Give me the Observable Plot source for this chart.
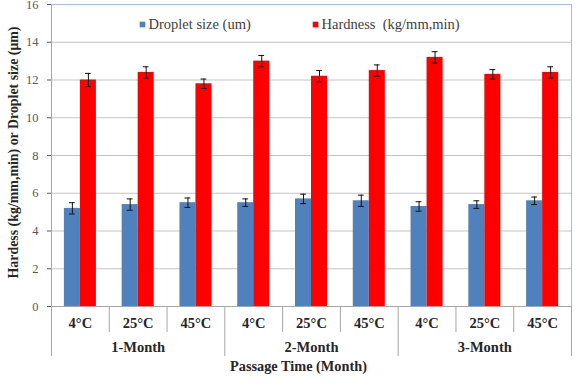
<!DOCTYPE html>
<html>
<head>
<meta charset="utf-8">
<script src="https://cdn.jsdelivr.net/npm/d3@7"></script>
<script src="https://cdn.jsdelivr.net/npm/@observablehq/plot@0.6"></script>
<style>
  body { margin: 0; background: #fff; }
  #chart svg, #chart svg text { font-family: "Liberation Serif", "Times New Roman", serif !important; }
</style>
</head>
<body>
<div id="chart"></div>
<script>
// Category levels on the x axis
const months = ["1-Month", "2-Month", "3-Month"];
const temps = ["4°C", "25°C", "45°C"];

// Series
const seriesNames = ["Droplet size (um)", "Hardness  (kg/mm,min)"];
const seriesColors = ["#4f81bd", "#ff0000"];
const dropletSize = [5.2, 5.4, 5.5, 5.5, 5.7, 5.6, 5.3, 5.4, 5.6];
const dropletErr = [0.3, 0.3, 0.25, 0.2, 0.25, 0.3, 0.25, 0.2, 0.2];
const hardness = [12.0, 12.4, 11.8, 13.0, 12.2, 12.5, 13.2, 12.3, 12.4];
const hardnessErr = [0.35, 0.3, 0.25, 0.3, 0.3, 0.3, 0.3, 0.25, 0.3];

// Axis ticks and titles
const yTicks = [0, 2, 4, 6, 8, 10, 12, 14, 16];
const yTitle = "Hardess (kg/mm,min) or Droplet size (μm)";
const xTitle = "Passage Time (Month)";

// One row per category (month × temperature), indexed 0..8 along x
const categories = months.flatMap((month, g) =>
  temps.map((temp, j) => ({i: g * temps.length + j, month, temp})));
const groups = months.map((month, g) => ({g, month}));

// One row per bar
const rows = categories.flatMap(c => [
  {i: c.i, s: 0, value: dropletSize[c.i], err: dropletErr[c.i]},
  {i: c.i, s: 1, value: hardness[c.i], err: hardnessErr[c.i]}
]);

const BAR = 0.277;  // bar width as a share of one category
const CAP = 0.05;   // half-width of the error-bar caps
const barLeft = d => d.i + 0.5 + (d.s - 1) * BAR;
const barMid = d => barLeft(d) + BAR / 2;
const nCat = categories.length;

// Legend entries sit inside the plot, just under the top edge
const legendItems = seriesNames.map((name, s) => ({name, s, x: [1.575, 4.57][s]}));
const legendY = 14.94;

const serif = "'Liberation Serif', 'Times New Roman', serif";
const gridColor = "#c4c4c4";
const axisColor = "#a6a6a6";
const frameBlue = "#a9bdd8";
const labelColor = "#262626";

const chart = Plot.plot({
  width: 578,
  height: 390,
  marginLeft: 51,
  marginRight: 7,
  marginTop: 4,
  marginBottom: 84,
  x: {domain: [0, nCat], axis: null},
  y: {domain: [0, 16], ticks: yTicks, tickSize: 4, tickPadding: 9, label: null},
  color: {domain: [0, 1], range: seriesColors},
  style: {fontFamily: serif, fontSize: "12.5px", color: "#595959", background: "white", overflow: "visible"},
  marks: [
    // horizontal gridlines
    Plot.ruleY(yTicks.filter(t => t > 0 && t < 16), {y: d => d, x1: 0, x2: nCat, stroke: gridColor}),

    // bars
    Plot.rectY(rows, {
      x1: barLeft,
      x2: d => barLeft(d) + BAR,
      y1: 0,
      y2: "value",
      fill: d => d.s
    }),

    // error bars
    Plot.ruleX(rows, {x: barMid, y1: d => d.value - d.err, y2: d => d.value + d.err, stroke: "#111", strokeWidth: 1}),
    Plot.ruleY(rows, {y: d => d.value + d.err, x1: d => barMid(d) - CAP, x2: d => barMid(d) + CAP, stroke: "#111", strokeWidth: 1}),
    Plot.ruleY(rows, {y: d => d.value - d.err, x1: d => barMid(d) - CAP, x2: d => barMid(d) + CAP, stroke: "#111", strokeWidth: 1}),

    // plot-area border on top and right
    Plot.ruleY([16], {x1: 0, x2: nCat, stroke: frameBlue}),
    Plot.ruleX([nCat], {y1: 0, y2: 16, stroke: frameBlue}),

    // value axis line and category baseline
    Plot.ruleX([0], {y1: 16, y2: 0, stroke: axisColor}),
    Plot.ruleY([0], {x1: 0, x2: nCat, stroke: axisColor}),

    // dividers between temperatures and between months
    Plot.ruleX(d3.range(1, nCat).filter(k => k % temps.length !== 0), {x: d => d, y1: 0, y2: -1.38, stroke: axisColor}),
    Plot.ruleX(d3.range(0, nCat + 1, temps.length), {x: d => d, y1: 0, y2: -2.65, stroke: axisColor}),

    // category labels
    Plot.text(categories, {x: d => d.i + 0.5, y: 0, dy: 17, text: "temp", fontWeight: "bold", fill: labelColor, fontSize: 14.5}),
    Plot.text(groups, {x: d => d.g * temps.length + temps.length / 2, y: 0, dy: 41, text: "month", fontWeight: "bold", fill: labelColor, fontSize: 14.5}),

    // axis titles
    Plot.text([xTitle], {text: d => d, frameAnchor: "bottom", textAnchor: "middle", dx: -13, dy: 64, fontWeight: "bold", fill: labelColor, fontSize: 14.3}),
    Plot.text([yTitle], {text: d => d, frameAnchor: "left", textAnchor: "middle", dx: -38, dy: -3, rotate: -90, fontWeight: "bold", fill: labelColor, fontSize: 13.9}),

    // legend
    Plot.dot(legendItems, {x: "x", y: legendY, symbol: "square", r: 3.2, fill: d => d.s, stroke: null}),
    Plot.text(legendItems, {x: "x", y: legendY, dx: 6, text: "name", textAnchor: "start", fill: "#404040", fontSize: 14.5})
  ]
});

document.getElementById("chart").appendChild(chart);
</script>
</body>
</html>
